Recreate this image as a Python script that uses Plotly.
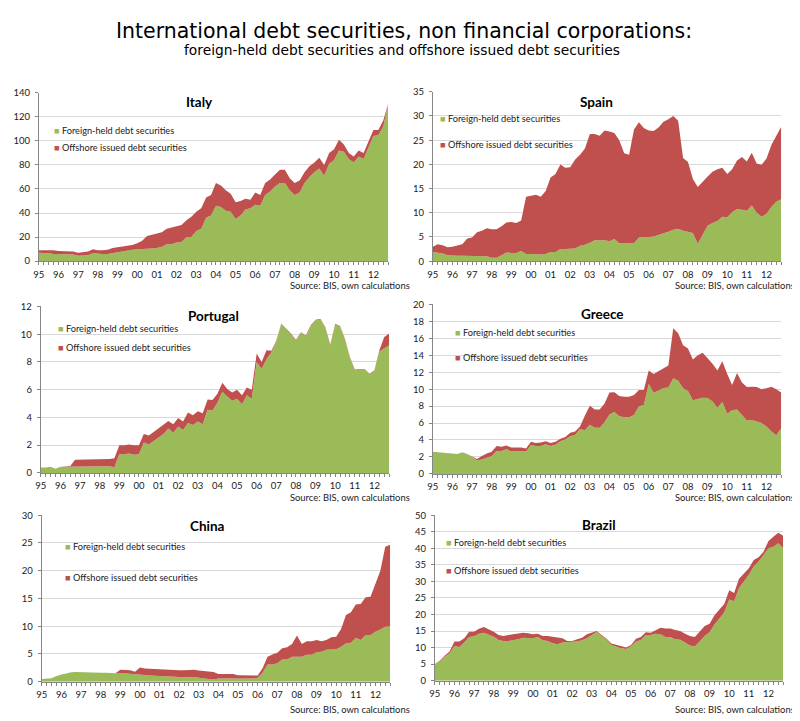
import plotly.graph_objects as go

# quarterly observations 1995Q1 .. 2012Q4
years = ["95", "96", "97", "98", "99", "00", "01", "02", "03",
         "04", "05", "06", "07", "08", "09", "10", "11", "12"]
quarters = list(range(len(years) * 4))

# values (bn); "total" = foreign-held + offshore issued
italy_foreign = [7, 7, 6.5, 6, 6, 5.5, 5.5, 5.5, 4.5, 5, 5, 6.5, 6, 6, 6, 7, 7.5, 8,
                 9, 9.5, 10, 10, 10, 10.5, 11, 12, 14, 14, 15.5, 16, 20, 20, 25, 27, 36, 38,
                 46, 45, 42, 41, 35, 38, 43, 44, 47, 46, 55, 58, 62, 65, 65, 59,
                 55, 57, 65, 70, 74, 77, 71, 81, 84, 92, 91, 85, 82, 87, 85, 95,
                 104, 105, 112, 131]
italy_total = [9, 9, 9.5, 9, 8.5, 8.5, 8, 8, 7, 7.5, 8, 10, 9, 9, 9.5, 11, 11.5, 12,
               13, 13.5, 15, 17, 21, 22, 22.5, 24, 27, 28, 29.5, 30, 34, 37, 41, 44, 53, 55,
               65, 63, 59, 56, 49, 50, 52, 51, 57, 55, 65, 68, 72, 76, 76, 69,
               65, 67, 74, 79, 82, 86, 80, 90, 93, 101, 97, 90, 87, 92, 90, 100,
               109, 109, 117, 131]

spain_foreign = [1.9, 1.7, 1.6, 1.2, 1.1, 1.1, 1.1, 1.1, 1.0, 1.0, 1.0, 1.0, 0.7, 0.7,
                 1.2, 1.8, 1.7, 1.7, 2.1, 1.5, 1.5, 1.4, 1.4, 1.5, 1.9, 1.9, 2.5, 2.5,
                 2.6, 2.6, 3.2, 3.4, 3.8, 4.3, 4.3, 4.3, 4.1, 4.6, 3.7, 3.7, 3.6, 3.7,
                 4.9, 4.9, 5.0, 5.1, 5.4, 5.8, 6.1, 6.5, 6.7, 6.3, 6.1, 5.8, 3.6, 5.5,
                 7.3, 7.9, 8.3, 9.2, 9.1, 10.1, 10.8, 10.6, 10.4, 11.5, 10.0, 9.2, 9.8,
                 11.2, 12.3, 12.8]
spain_total = [3.0, 3.5, 3.3, 2.9, 3.0, 3.2, 3.5, 4.7, 4.9, 6.0, 6.3, 6.8, 6.6, 6.6,
               7.2, 8.0, 8.1, 7.9, 8.4, 13.3, 13.5, 13.7, 13.3, 14.5, 17.3, 18.0, 20.0,
               19.3, 19.4, 21.0, 22.0, 23.3, 26.3, 26.3, 25.9, 27.0, 26.8, 26.5, 25.0,
               22.3, 22.0, 27.2, 28.7, 27.5, 27.0, 26.9, 27.6, 28.8, 29.3, 30.0, 29.0,
               21.3, 20.5, 17.0, 15.3, 16.5, 17.5, 18.5, 19.0, 19.3, 18.0, 19.0, 20.8,
               21.5, 20.6, 22.4, 20.2, 19.9, 21.2, 24.0, 26.0, 27.8]

portugal_foreign = [0.38, 0.38, 0.45, 0.3, 0.45, 0.45, 0.45, 0.45, 0.45, 0.45, 0.45,
                    0.47, 0.47, 0.47, 0.47, 0.4, 1.35, 1.35, 1.4, 1.3, 1.35, 2.2, 2.05,
                    2.3, 2.55, 2.8, 3.2, 2.9, 3.35, 3.1, 3.6, 3.45, 3.7, 3.5, 4.55, 4.5,
                    5.05, 5.85, 5.5, 5.2, 5.35, 4.95, 5.6, 5.35, 8.0, 7.5, 8.2, 8.7, 9.5,
                    10.7, 10.35, 10.0, 9.55, 10.1, 9.85, 10.6, 11.0, 11.05, 10.45, 9.2,
                    10.7, 10.55, 9.6, 8.3, 7.4, 7.4, 7.45, 7.1, 7.35, 8.75, 9.0, 9.2]
portugal_total = [0.38, 0.38, 0.45, 0.3, 0.45, 0.45, 0.5, 0.95, 0.95, 0.95, 0.95,
                  0.95, 0.97, 0.97, 1.0, 1.05, 2.0, 2.0, 2.05, 2.0, 2.0, 2.8, 2.7,
                  2.95, 3.2, 3.45, 3.75, 3.5, 3.95, 3.7, 4.35, 4.15, 4.45, 4.3, 5.3, 5.25,
                  5.7, 6.5, 6.05, 5.8, 6.0, 5.6, 6.15, 6.0, 8.6, 8.0, 8.85, 8.8, 9.55,
                  10.75, 10.4, 10.05, 9.6, 10.15, 9.9, 10.65, 11.05, 11.1, 10.5, 9.25,
                  10.75, 10.6, 9.65, 8.35, 7.45, 7.45, 7.5, 7.15, 7.4, 8.85, 9.8, 10.05]

greece_foreign = [2.6, 2.55, 2.5, 2.45, 2.35, 2.35, 2.55, 2.35, 2.0, 1.6, 1.7, 1.9,
                  2.1, 2.7, 2.7, 2.9, 2.65, 2.7, 2.7, 2.65, 3.4, 3.3, 3.3, 3.5, 3.3,
                  3.45, 3.85, 4.05, 4.45, 4.6, 5.3, 5.15, 5.8, 5.45, 5.45, 6.1, 7.0,
                  7.3, 6.8, 6.7, 6.7, 6.95, 8.0, 8.1, 10.6, 9.55, 9.85, 10.15, 10.2,
                  11.3, 11.0, 10.1, 9.8, 8.7, 8.85, 9.0, 8.95, 8.55, 7.8, 8.5, 7.1,
                  7.5, 7.6, 6.9, 6.3, 6.35, 6.2, 6.0, 5.6, 5.0, 4.55, 5.4]
greece_total = [2.6, 2.55, 2.5, 2.45, 2.35, 2.35, 2.55, 2.35, 2.05, 1.75, 2.1, 2.4,
                2.6, 3.3, 3.2, 3.35, 3.1, 3.1, 3.1, 3.0, 3.8, 3.65, 3.7, 3.85, 3.65,
                3.8, 4.15, 4.35, 4.85, 5.0, 5.6, 6.9, 8.05, 7.6, 7.6, 8.3, 9.6,
                9.65, 9.2, 9.1, 9.1, 9.3, 9.9, 9.9, 12.2, 11.8, 12.1, 12.5, 12.8,
                17.2, 16.6, 15.2, 14.8, 13.5, 14.0, 14.3, 13.7, 13.0, 12.2, 13.3, 11.8,
                10.5, 11.9, 10.8, 10.25, 10.3, 10.25, 10.0, 10.1, 10.3, 10.0, 9.6]

china_foreign = [0.5, 0.55, 0.6, 1.0, 1.3, 1.45, 1.7, 1.75, 1.7, 1.65, 1.65, 1.6,
                 1.6, 1.6, 1.55, 1.45, 1.55, 1.5, 1.45, 1.4, 1.3, 1.2, 1.1, 1.05,
                 1.0, 0.95, 0.85, 0.8, 0.8, 0.8, 0.8, 0.85, 0.7, 0.65, 0.5, 0.4,
                 0.55, 0.55, 0.55, 0.55, 0.55, 0.55, 0.55, 0.55, 0.7, 1.6, 3.1, 3.1,
                 3.3, 4.0, 4.0, 4.5, 4.5, 4.5, 4.85, 4.85, 5.3, 5.4, 5.75, 5.8,
                 5.85, 6.3, 6.9, 7.0, 7.9, 7.5, 8.4, 8.4, 9.0, 9.4, 9.9, 10.0]
china_total = [0.5, 0.55, 0.6, 1.0, 1.3, 1.45, 1.7, 1.75, 1.7, 1.65, 1.65, 1.6,
               1.6, 1.6, 1.55, 1.5, 2.15, 2.1, 2.05, 1.8, 2.55, 2.35, 2.3, 2.25,
               2.2, 2.1, 2.15, 2.1, 2.05, 2.05, 2.05, 2.15, 2.0, 1.9, 1.8, 1.75,
               1.4, 1.4, 1.4, 1.4, 1.15, 1.15, 1.15, 1.05, 1.1, 2.4, 4.5, 4.9,
               5.2, 6.0, 6.2, 6.8, 8.3, 6.8, 7.3, 7.3, 7.5, 7.3, 7.5, 8.0,
               8.1, 9.5, 12.0, 12.5, 13.9, 14.0, 15.2, 15.3, 17.5, 20.0, 24.3, 24.7]

brazil_foreign = [5.0, 5.8, 7.2, 8.3, 10.5, 10.2, 11.5, 13.2, 13.4, 14.2,
                  14.5, 13.8, 13.3, 12.3, 12.0, 12.0, 12.2, 12.5, 13.0, 13.0,
                  12.8, 13.2, 12.2, 12.0, 11.3, 11.0, 11.5, 11.7, 11.7, 11.8,
                  12.2, 12.8, 13.8, 14.7, 13.5, 12.4, 10.8, 10.3, 9.8, 9.6,
                  10.4, 11.8, 12.3, 13.8, 13.8, 14.2, 14.0, 13.2, 13.2, 12.5,
                  12.4, 11.5, 10.6, 10.3, 12.0, 13.5, 14.6, 17.0, 18.8, 20.7,
                  24.5, 24.0, 28.0, 30.0, 32.0, 34.5, 36.0, 38.0, 40.0, 40.5,
                  41.5, 40.0]
brazil_total = [5.0, 6.0, 7.5, 8.8, 11.8, 11.8, 12.8, 14.8, 14.8, 15.7,
                16.2, 15.6, 14.8, 13.8, 13.5, 13.8, 14.0, 14.2, 14.5, 14.3,
                14.0, 14.2, 13.5, 13.5, 13.3, 13.0, 12.8, 12.0, 12.0, 12.5,
                13.0, 14.0, 14.5, 15.0, 13.8, 12.7, 11.2, 10.8, 10.3, 10.0,
                10.8, 12.7, 13.2, 14.6, 14.5, 15.2, 16.0, 15.8, 15.8, 15.3,
                15.0, 14.2, 13.5, 13.2, 14.8, 16.5, 17.2, 19.8, 21.5, 23.2,
                27.3, 26.5, 30.8, 32.3, 34.0, 36.5, 37.3, 39.0, 42.2, 43.5,
                44.7, 43.8]

GREEN = "#9bbb59"
RED = "#c0504d"
FONT = "Lato"
TXT = "#1a1a1a"

# the page body keeps an 8px margin: positions below are screen pixels
# of the reference, shifted into the figure's own paper fractions
W, H, OFF = 800, 721, 8


def fx(px):
    return (px - OFF) / W


def fy(py):
    return 1 - (py - OFF) / H


# name, foreign, total, y max, y step, plot box (left, right, top, bottom px),
# title centre (x, y px), legend square (x px, y foreign, y offshore px)
panels = [
    ("Italy", italy_foreign, italy_total, 140, 20, (33, 385, 88, 259), (195, 97), (51, 126, 144)),
    ("Spain", spain_foreign, spain_total, 35, 5, (430, 781, 87, 259), (595, 97), (440, 114, 141)),
    ("Portugal", portugal_foreign, portugal_total, 12, 2, (35, 386, 305, 474), (209, 315), (55, 327, 347)),
    ("Greece", greece_foreign, greece_total, 20, 2, (430, 781, 303, 475), (601, 313), (455, 331, 357)),
    ("China", china_foreign, china_total, 30, 5, (36, 387, 517, 686), (203, 528), (62, 549, 580)),
    ("Brazil", brazil_foreign, brazil_total, 50, 5, (432, 783, 517, 685), (597, 527), (446, 545, 573)),
]
source_rows = [284, 499, 714]
source_right = [409, 797]

fig = go.Figure()
annotations = []
layout_axes = {}

for n, (name, foreign, total, ymax, ystep, box, tpos, leg) in enumerate(panels, start=1):
    xa = "x" if n == 1 else f"x{n}"
    ya = "y" if n == 1 else f"y{n}"
    left, right, top, bottom = box
    fig.add_trace(go.Scatter(x=quarters, y=foreign, mode="lines", line=dict(width=0),
                             fill="tozeroy", fillcolor=GREEN, xaxis=xa, yaxis=ya,
                             showlegend=False, hoverinfo="skip"))
    fig.add_trace(go.Scatter(x=quarters, y=total, mode="lines", line=dict(width=0),
                             fill="tonexty", fillcolor=RED, xaxis=xa, yaxis=ya,
                             showlegend=False, hoverinfo="skip"))

    layout_axes["xaxis" if n == 1 else f"xaxis{n}"] = dict(
        domain=[fx(left), fx(right)], anchor=ya, range=[0, len(quarters) - 1],
        tickvals=quarters[::4], ticktext=years,
        showgrid=False, zeroline=False, showline=True, linecolor="#868686",
        ticks="outside", ticklen=3, tickcolor="#868686", ticklabelstandoff=1,
        minor=dict(dtick=1, ticks="outside", ticklen=3, tickcolor="#868686", showgrid=False),
        tickfont=dict(family=FONT, size=9.5, color=TXT),
    )
    layout_axes["yaxis" if n == 1 else f"yaxis{n}"] = dict(
        domain=[fy(bottom), fy(top)], anchor=xa, range=[0, ymax], dtick=ystep,
        showgrid=True, gridcolor="#d9d9d9", zeroline=False,
        showline=True, linecolor="#868686", ticks="outside", ticklen=3, tickcolor="#868686",
        ticklabelstandoff=3,
        tickfont=dict(family=FONT, size=9.5, color=TXT),
    )

    annotations.append(dict(text=f"<b>{name}</b>", x=fx(tpos[0]), y=fy(tpos[1]),
                            xref="paper", yref="paper", xanchor="center", yanchor="middle",
                            showarrow=False, font=dict(family=FONT, size=13.5, color="black")))
    annotations.append(dict(text=f"<span style='color:{GREEN}'>■</span> Foreign-held debt securities",
                            x=fx(leg[0] - 5), y=fy(leg[1]), xref="paper", yref="paper",
                            xanchor="left", yanchor="middle", showarrow=False,
                            font=dict(family=FONT, size=9.2, color=TXT)))
    annotations.append(dict(text=f"<span style='color:{RED}'>■</span> Offshore issued debt securities",
                            x=fx(leg[0] - 5), y=fy(leg[2]), xref="paper", yref="paper",
                            xanchor="left", yanchor="middle", showarrow=False,
                            font=dict(family=FONT, size=9.2, color=TXT)))
    annotations.append(dict(text="Source: BIS, own calculations",
                            x=fx(source_right[(n - 1) % 2]), y=fy(source_rows[(n - 1) // 2]),
                            xref="paper", yref="paper", xanchor="right", yanchor="middle",
                            showarrow=False, font=dict(family=FONT, size=9.4, color=TXT)))

annotations.append(dict(text="International debt securities, non financial corporations:",
                        x=fx(401), y=fy(25), xref="paper", yref="paper", xanchor="center",
                        yanchor="middle", showarrow=False,
                        font=dict(family="DejaVu Sans", size=20.5, color="black")))
annotations.append(dict(text="foreign-held debt securities and offshore issued debt securities",
                        x=fx(399), y=fy(45), xref="paper", yref="paper", xanchor="center",
                        yanchor="middle", showarrow=False,
                        font=dict(family="DejaVu Sans", size=13.8, color="black")))

fig.update_layout(width=W, height=H, margin=dict(l=0, r=0, t=0, b=0),
                  paper_bgcolor="white", plot_bgcolor="white",
                  annotations=annotations, **layout_axes)

fig.write_html("out.html")
